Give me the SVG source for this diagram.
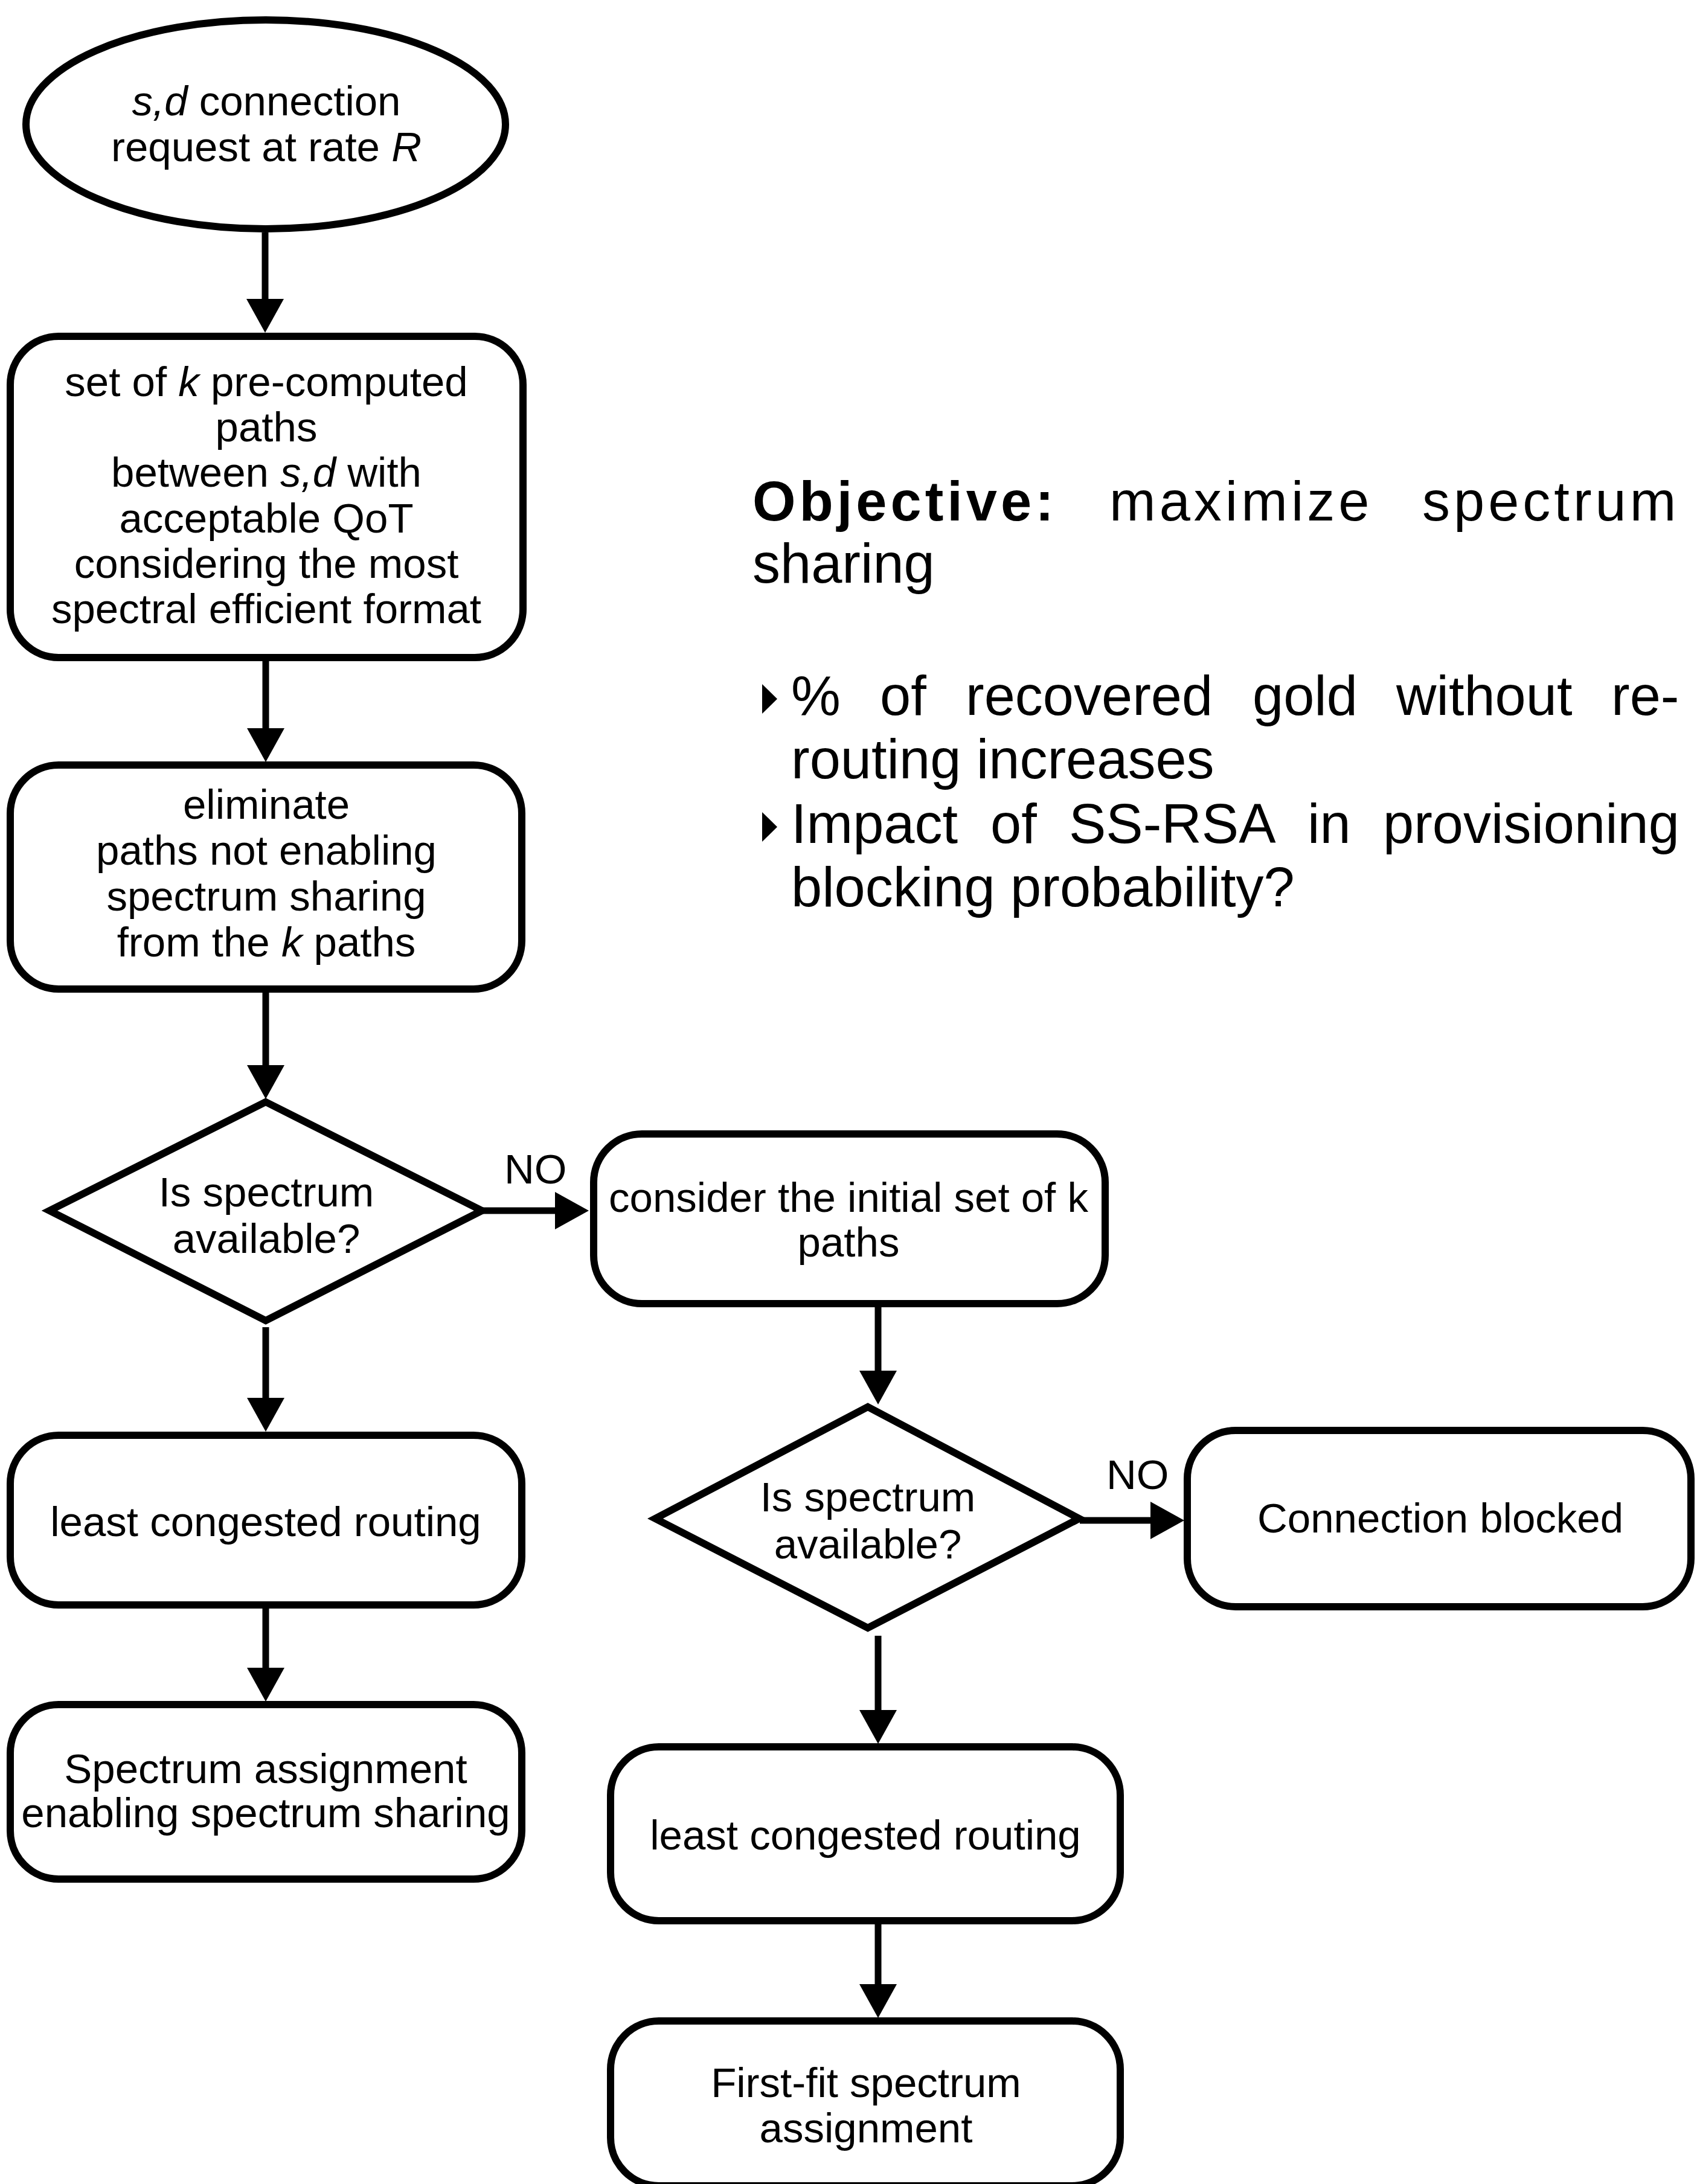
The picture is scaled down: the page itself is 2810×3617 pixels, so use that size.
<svg xmlns="http://www.w3.org/2000/svg" width="2810" height="3617" viewBox="0 0 2810 3617">
<style>
.shape{fill:#fff;stroke:#000;stroke-width:12}
.conn{stroke:#000;stroke-width:11;fill:none}
text{font-family:"Liberation Sans",Arial,sans-serif;fill:#000}
.t{font-size:69px;text-anchor:middle}
.lbl{font-size:69px}
.obj{font-size:92px}
.i{font-style:italic}
</style>
<defs>
<marker id="ah" markerUnits="userSpaceOnUse" markerWidth="56" markerHeight="62" refX="0" refY="31" orient="auto">
<path d="M0,0 L56,31 L0,62 z" fill="#000"/>
</marker>
</defs>
<rect width="2810" height="3617" fill="#fff"/>

<g id="connectors">
<line class="conn" x1="439" y1="385" x2="439" y2="495" marker-end="url(#ah)"/>
<line class="conn" x1="440" y1="1095" x2="440" y2="1206" marker-end="url(#ah)"/>
<line class="conn" x1="440" y1="1644" x2="440" y2="1764" marker-end="url(#ah)"/>
<line class="conn" x1="440" y1="2198" x2="440" y2="2315" marker-end="url(#ah)"/>
<line class="conn" x1="440" y1="2664" x2="440" y2="2762" marker-end="url(#ah)"/>
<line class="conn" x1="798" y1="2005" x2="919" y2="2005" marker-end="url(#ah)"/>
<line class="conn" x1="1454" y1="2165" x2="1454" y2="2270" marker-end="url(#ah)"/>
<line class="conn" x1="1788" y1="2518" x2="1905" y2="2518" marker-end="url(#ah)"/>
<line class="conn" x1="1454" y1="2709" x2="1454" y2="2832" marker-end="url(#ah)"/>
<line class="conn" x1="1454" y1="3187" x2="1454" y2="3286" marker-end="url(#ah)"/>
<text class="lbl" x="835" y="1960">NO</text>
<text class="lbl" x="1832" y="2466">NO</text>
</g>

<g id="start">
<ellipse class="shape" cx="440" cy="206" rx="397" ry="173"/>
<text class="t" x="441" y="191"><tspan class="i">s,d</tspan> connection</text>
<text class="t" x="441" y="267">request at rate <tspan class="i">R</tspan></text>
</g>

<g id="kpaths">
<rect class="shape" x="17" y="557" width="849" height="532" rx="80" ry="80"/>
<text class="t" x="441" y="656">set of <tspan class="i">k</tspan> pre-computed</text>
<text class="t" x="441" y="731">paths</text>
<text class="t" x="441" y="806">between <tspan class="i">s,d</tspan> with</text>
<text class="t" x="441" y="882">acceptable QoT</text>
<text class="t" x="441" y="957">considering the most</text>
<text class="t" x="441" y="1032">spectral efficient format</text>
</g>

<g id="eliminate">
<rect class="shape" x="17" y="1267" width="847" height="371" rx="80" ry="80"/>
<text class="t" x="441" y="1356">eliminate</text>
<text class="t" x="441" y="1432">paths not enabling</text>
<text class="t" x="441" y="1508">spectrum sharing</text>
<text class="t" x="441" y="1584">from the <tspan class="i">k</tspan> paths</text>
</g>

<g id="decision1">
<polygon class="shape" points="440,1825 798,2005 440,2187 82,2005"/>
<text class="t" x="441" y="1998">Is spectrum</text>
<text class="t" x="441" y="2075">available?</text>
</g>

<g id="lcr1">
<rect class="shape" x="17" y="2377" width="847" height="281" rx="80" ry="80"/>
<text class="t" x="440" y="2544">least congested routing</text>
</g>

<g id="sa">
<rect class="shape" x="17" y="2823" width="847" height="289" rx="80" ry="80"/>
<text class="t" x="440" y="2953">Spectrum assignment</text>
<text class="t" x="440" y="3026">enabling spectrum sharing</text>
</g>

<g id="consider">
<rect class="shape" x="983" y="1878" width="847" height="281" rx="80" ry="80"/>
<text class="t" x="1405" y="2007">consider the initial set of k</text>
<text class="t" x="1405" y="2081">paths</text>
</g>

<g id="decision2">
<polygon class="shape" points="1437,2330 1787,2515 1437,2696 1085,2515"/>
<text class="t" x="1437" y="2503">Is spectrum</text>
<text class="t" x="1437" y="2581">available?</text>
</g>

<g id="blocked">
<rect class="shape" x="1966" y="2369" width="834" height="292" rx="80" ry="80"/>
<text class="t" x="2385" y="2538">Connection blocked</text>
</g>

<g id="lcr2">
<rect class="shape" x="1011" y="2893" width="844" height="288" rx="80" ry="80"/>
<text class="t" x="1433" y="3063">least congested routing</text>
</g>

<g id="firstfit">
<rect class="shape" x="1011" y="3347" width="844" height="273" rx="80" ry="80"/>
<text class="t" x="1434" y="3473">First-fit spectrum</text>
<text class="t" x="1434" y="3548">assignment</text>
</g>

<g id="objective">
<text class="obj" y="862" letter-spacing="6"><tspan x="1246" font-weight="bold">Objective:</tspan><tspan x="1837">maximize</tspan><tspan x="2355">spectrum</tspan></text>
<text class="obj" x="1246" y="965">sharing</text>
<polygon points="1262,1133 1287,1157.5 1262,1182" fill="#000"/>
<text class="obj" y="1184"><tspan x="1310">%</tspan><tspan x="1457">of</tspan><tspan x="1599">recovered</tspan><tspan x="2074">gold</tspan><tspan x="2312">without</tspan><tspan x="2668">re-</tspan></text>
<text class="obj" x="1310" y="1289">routing increases</text>
<polygon points="1262,1345 1287,1369.5 1262,1394" fill="#000"/>
<text class="obj" y="1396"><tspan x="1310">Impact</tspan><tspan x="1640">of</tspan><tspan x="1770">SS-RSA</tspan><tspan x="2165">in</tspan><tspan x="2290">provisioning</tspan></text>
<text class="obj" x="1310" y="1501">blocking probability?</text>
</g>
</svg>
